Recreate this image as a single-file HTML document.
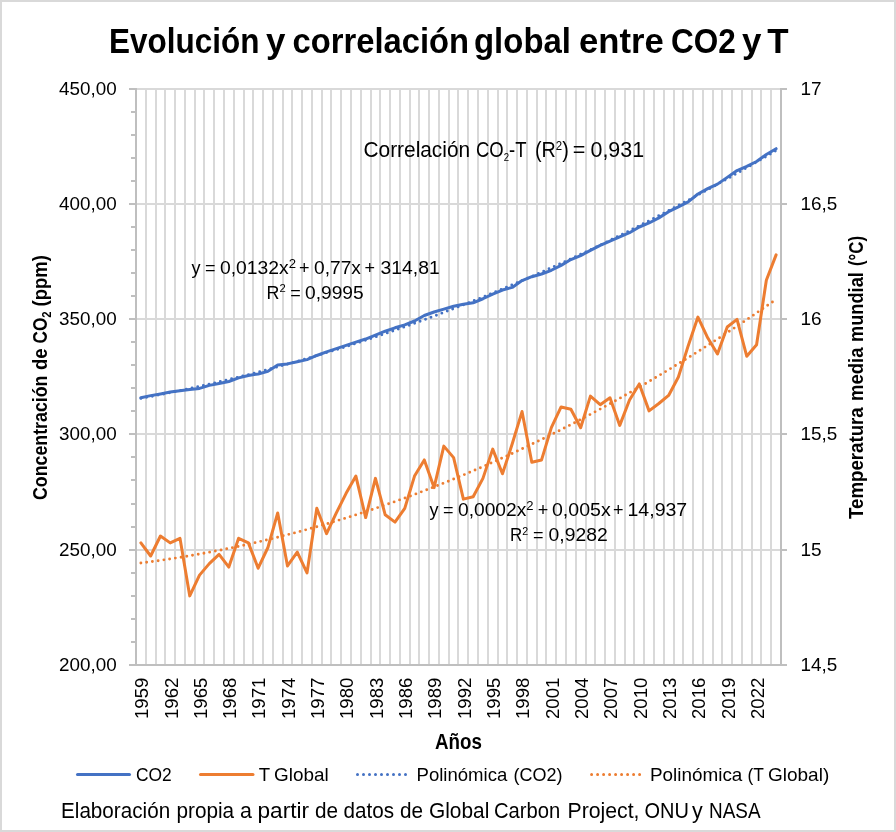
<!DOCTYPE html>
<html><head><meta charset="utf-8"><title>Evolución y correlación global entre CO2 y T</title>
<style>html,body{margin:0;padding:0;background:#fff;width:896px;height:832px;overflow:hidden;}svg{display:block;will-change:transform;}
text{font-family:"Liberation Sans", Arial, sans-serif;fill:#000;}</style></head>
<body><svg width="896" height="832" viewBox="0 0 896 832">
<rect x="1" y="1" width="894" height="830" fill="#fff" stroke="#D9D9D9" stroke-width="2"/>
<path d="M146 89V665M156 89V665M165 89V665M175 89V665M185 89V665M195 89V665M204 89V665M214 89V665M224 89V665M234 89V665M244 89V665M253 89V665M263 89V665M273 89V665M283 89V665M292 89V665M302 89V665M312 89V665M322 89V665M331 89V665M341 89V665M351 89V665M361 89V665M371 89V665M380 89V665M390 89V665M400 89V665M410 89V665M419 89V665M429 89V665M439 89V665M449 89V665M458 89V665M468 89V665M478 89V665M488 89V665M498 89V665M507 89V665M517 89V665M527 89V665M537 89V665M546 89V665M556 89V665M566 89V665M576 89V665M586 89V665M595 89V665M605 89V665M615 89V665M625 89V665M634 89V665M644 89V665M654 89V665M664 89V665M674 89V665M683 89V665M693 89V665M703 89V665M713 89V665M722 89V665M732 89V665M742 89V665M752 89V665M761 89V665M771 89V665M136 89H781M136 204H781M136 319H781M136 434H781M136 550H781" stroke="#D9D9D9" stroke-width="2" fill="none"/>
<path d="M136 88V666M781 88V666M129 665H782M129 89H136M781 89H787M129 204H136M781 204H787M129 319H136M781 319H787M129 434H136M781 434H787M129 550H136M781 550H787M129 665H136M781 665H787M131 112H136M131 135H136M131 158H136M131 181H136M131 227H136M131 250H136M131 273H136M131 296H136M131 342H136M131 365H136M131 388H136M131 411H136M131 457H136M131 480H136M131 504H136M131 527H136M131 573H136M131 596H136M131 619H136M131 642H136" stroke="#BFBFBF" stroke-width="2" fill="none"/>
<polyline points="140.89,397.78 150.66,395.64 160.43,393.96 170.20,392.09 179.98,390.85 189.75,389.40 199.52,388.43 209.30,385.36 219.07,383.50 228.84,381.49 238.61,377.88 248.39,375.43 258.16,373.96 267.93,371.33 277.70,365.07 287.48,363.89 297.25,361.72 307.02,359.65 316.80,355.48 326.57,351.86 336.34,348.57 346.11,345.30 355.89,342.16 365.66,339.03 375.43,335.18 385.20,331.22 394.98,327.81 404.75,324.91 414.52,320.99 424.30,315.51 434.07,312.03 443.84,309.15 453.61,306.27 463.39,304.33 473.16,302.79 482.93,298.76 492.70,294.13 502.48,290.05 512.25,287.42 522.02,280.60 531.80,276.68 541.57,273.99 551.34,270.28 561.11,265.37 570.89,259.54 580.66,255.58 590.43,250.33 600.20,245.46 609.98,241.02 619.75,236.85 629.52,232.68 639.30,227.01 649.07,222.98 658.84,217.89 668.61,211.71 678.39,206.94 688.16,201.87 697.93,194.04 707.70,188.62 717.48,184.11 727.25,177.36 737.02,170.54 746.80,166.39 756.57,161.51 766.34,154.43 776.11,148.67" fill="none" stroke="#4472C4" stroke-width="3.00" stroke-linejoin="round" stroke-linecap="round"/>
<polyline points="140.89,542.89 150.66,556.02 160.43,535.98 170.20,542.89 179.98,538.28 189.75,595.88 199.52,575.14 209.30,563.62 219.07,554.41 228.84,567.08 238.61,538.28 248.39,542.89 258.16,568.23 267.93,547.50 277.70,512.94 287.48,565.93 297.25,552.10 307.02,572.84 316.80,508.33 326.57,533.67 336.34,512.94 346.11,493.35 355.89,476.07 365.66,517.54 375.43,478.38 385.20,514.78 394.98,522.15 404.75,508.33 414.52,476.07 424.30,459.94 434.07,487.59 443.84,446.12 453.61,457.64 463.39,499.11 473.16,496.81 482.93,478.38 492.70,449.12 502.48,473.77 512.25,443.82 522.02,411.56 531.80,462.25 541.57,459.94 551.34,427.69 561.11,406.95 570.89,409.26 580.66,427.69 590.43,396.12 600.20,404.65 609.98,397.74 619.75,425.38 629.52,400.04 639.30,383.91 649.07,410.87 658.84,403.50 668.61,395.43 678.39,377.00 688.16,345.90 697.93,317.10 707.70,337.83 717.48,353.96 727.25,327.00 737.02,319.40 746.80,356.26 756.57,344.74 766.34,280.23 776.11,254.89" fill="none" stroke="#ED7D31" stroke-width="3.00" stroke-linejoin="round" stroke-linecap="round"/>
<polyline points="140.89,398.40 142.48,398.10 144.07,397.80 145.66,397.50 147.25,397.19 148.85,396.89 150.44,396.58 152.03,396.27 153.62,395.96 155.21,395.65 156.81,395.34 158.40,395.02 159.99,394.71 161.58,394.39 163.18,394.07 164.77,393.75 166.36,393.42 167.95,393.10 169.54,392.77 171.14,392.45 172.73,392.12 174.32,391.79 175.91,391.45 177.50,391.12 179.10,390.78 180.69,390.45 182.28,390.11 183.87,389.77 185.46,389.42 187.06,389.08 188.65,388.73 190.24,388.39 191.83,388.04 193.42,387.69 195.02,387.33 196.61,386.98 198.20,386.63 199.79,386.27 201.38,385.91 202.98,385.55 204.57,385.19 206.16,384.82 207.75,384.46 209.34,384.09 210.94,383.72 212.53,383.35 214.12,382.98 215.71,382.61 217.30,382.23 218.90,381.86 220.49,381.48 222.08,381.10 223.67,380.72 225.26,380.34 226.86,379.95 228.45,379.57 230.04,379.18 231.63,378.79 233.23,378.40 234.82,378.00 236.41,377.61 238.00,377.21 239.59,376.82 241.19,376.42 242.78,376.02 244.37,375.61 245.96,375.21 247.55,374.81 249.15,374.40 250.74,373.99 252.33,373.58 253.92,373.17 255.51,372.75 257.11,372.34 258.70,371.92 260.29,371.50 261.88,371.08 263.47,370.66 265.07,370.24 266.66,369.81 268.25,369.38 269.84,368.96 271.43,368.53 273.03,368.10 274.62,367.66 276.21,367.23 277.80,366.79 279.39,366.35 280.99,365.91 282.58,365.47 284.17,365.03 285.76,364.58 287.35,364.14 288.95,363.69 290.54,363.24 292.13,362.79 293.72,362.34 295.32,361.88 296.91,361.43 298.50,360.97 300.09,360.51 301.68,360.05 303.28,359.59 304.87,359.12 306.46,358.66 308.05,358.19 309.64,357.72 311.24,357.25 312.83,356.78 314.42,356.31 316.01,355.83 317.60,355.35 319.20,354.88 320.79,354.40 322.38,353.91 323.97,353.43 325.56,352.95 327.16,352.46 328.75,351.97 330.34,351.48 331.93,350.99 333.52,350.50 335.12,350.00 336.71,349.50 338.30,349.01 339.89,348.51 341.48,348.01 343.08,347.50 344.67,347.00 346.26,346.49 347.85,345.98 349.44,345.48 351.04,344.96 352.63,344.45 354.22,343.94 355.81,343.42 357.40,342.90 359.00,342.39 360.59,341.87 362.18,341.34 363.77,340.82 365.37,340.29 366.96,339.77 368.55,339.24 370.14,338.71 371.73,338.17 373.33,337.64 374.92,337.11 376.51,336.57 378.10,336.03 379.69,335.49 381.29,334.95 382.88,334.41 384.47,333.86 386.06,333.31 387.65,332.77 389.25,332.22 390.84,331.66 392.43,331.11 394.02,330.56 395.61,330.00 397.21,329.44 398.80,328.88 400.39,328.32 401.98,327.76 403.57,327.19 405.17,326.63 406.76,326.06 408.35,325.49 409.94,324.92 411.53,324.35 413.13,323.77 414.72,323.20 416.31,322.62 417.90,322.04 419.49,321.46 421.09,320.88 422.68,320.29 424.27,319.71 425.86,319.12 427.46,318.53 429.05,317.94 430.64,317.35 432.23,316.76 433.82,316.16 435.42,315.57 437.01,314.97 438.60,314.37 440.19,313.77 441.78,313.16 443.38,312.56 444.97,311.95 446.56,311.34 448.15,310.73 449.74,310.12 451.34,309.51 452.93,308.89 454.52,308.28 456.11,307.66 457.70,307.04 459.30,306.42 460.89,305.80 462.48,305.17 464.07,304.55 465.66,303.92 467.26,303.29 468.85,302.66 470.44,302.03 472.03,301.39 473.62,300.76 475.22,300.12 476.81,299.48 478.40,298.84 479.99,298.20 481.58,297.55 483.18,296.91 484.77,296.26 486.36,295.61 487.95,294.96 489.54,294.31 491.14,293.66 492.73,293.00 494.32,292.34 495.91,291.69 497.51,291.03 499.10,290.36 500.69,289.70 502.28,289.04 503.87,288.37 505.47,287.70 507.06,287.03 508.65,286.36 510.24,285.69 511.83,285.01 513.43,284.34 515.02,283.66 516.61,282.98 518.20,282.30 519.79,281.61 521.39,280.93 522.98,280.24 524.57,279.56 526.16,278.87 527.75,278.18 529.35,277.48 530.94,276.79 532.53,276.09 534.12,275.40 535.71,274.70 537.31,274.00 538.90,273.30 540.49,272.59 542.08,271.89 543.67,271.18 545.27,270.47 546.86,269.76 548.45,269.05 550.04,268.33 551.63,267.62 553.23,266.90 554.82,266.18 556.41,265.46 558.00,264.74 559.60,264.02 561.19,263.29 562.78,262.57 564.37,261.84 565.96,261.11 567.56,260.38 569.15,259.65 570.74,258.91 572.33,258.18 573.92,257.44 575.52,256.70 577.11,255.96 578.70,255.21 580.29,254.47 581.88,253.72 583.48,252.98 585.07,252.23 586.66,251.48 588.25,250.72 589.84,249.97 591.44,249.21 593.03,248.46 594.62,247.70 596.21,246.94 597.80,246.18 599.40,245.41 600.99,244.65 602.58,243.88 604.17,243.11 605.76,242.34 607.36,241.57 608.95,240.80 610.54,240.02 612.13,239.24 613.72,238.46 615.32,237.68 616.91,236.90 618.50,236.12 620.09,235.34 621.68,234.55 623.28,233.76 624.87,232.97 626.46,232.18 628.05,231.39 629.65,230.59 631.24,229.80 632.83,229.00 634.42,228.20 636.01,227.40 637.61,226.60 639.20,225.79 640.79,224.99 642.38,224.18 643.97,223.37 645.57,222.56 647.16,221.75 648.75,220.93 650.34,220.12 651.93,219.30 653.53,218.48 655.12,217.66 656.71,216.84 658.30,216.01 659.89,215.19 661.49,214.36 663.08,213.53 664.67,212.70 666.26,211.87 667.85,211.04 669.45,210.20 671.04,209.37 672.63,208.53 674.22,207.69 675.81,206.85 677.41,206.00 679.00,205.16 680.59,204.31 682.18,203.46 683.77,202.61 685.37,201.76 686.96,200.91 688.55,200.05 690.14,199.20 691.74,198.34 693.33,197.48 694.92,196.62 696.51,195.76 698.10,194.89 699.70,194.03 701.29,193.16 702.88,192.29 704.47,191.42 706.06,190.55 707.66,189.67 709.25,188.80 710.84,187.92 712.43,187.04 714.02,186.16 715.62,185.28 717.21,184.40 718.80,183.51 720.39,182.62 721.98,181.74 723.58,180.85 725.17,179.95 726.76,179.06 728.35,178.17 729.94,177.27 731.54,176.37 733.13,175.47 734.72,174.57 736.31,173.67 737.90,172.76 739.50,171.85 741.09,170.95 742.68,170.04 744.27,169.13 745.86,168.21 747.46,167.30 749.05,166.38 750.64,165.46 752.23,164.55 753.82,163.62 755.42,162.70 757.01,161.78 758.60,160.85 760.19,159.92 761.79,159.00 763.38,158.06 764.97,157.13 766.56,156.20 768.15,155.26 769.75,154.33 771.34,153.39 772.93,152.45 774.52,151.50 776.11,150.56" fill="none" stroke="#4472C4" stroke-width="2.90" stroke-linecap="round" stroke-dasharray="0 5.80"/>
<polyline points="140.89,562.99 142.48,562.79 144.07,562.58 145.66,562.38 147.25,562.17 148.85,561.96 150.44,561.74 152.03,561.53 153.62,561.31 155.21,561.09 156.81,560.87 158.40,560.64 159.99,560.41 161.58,560.18 163.18,559.95 164.77,559.72 166.36,559.48 167.95,559.24 169.54,559.00 171.14,558.76 172.73,558.51 174.32,558.26 175.91,558.01 177.50,557.76 179.10,557.50 180.69,557.25 182.28,556.99 183.87,556.72 185.46,556.46 187.06,556.19 188.65,555.92 190.24,555.65 191.83,555.38 193.42,555.10 195.02,554.83 196.61,554.55 198.20,554.26 199.79,553.98 201.38,553.69 202.98,553.40 204.57,553.11 206.16,552.81 207.75,552.52 209.34,552.22 210.94,551.92 212.53,551.61 214.12,551.31 215.71,551.00 217.30,550.69 218.90,550.38 220.49,550.06 222.08,549.74 223.67,549.43 225.26,549.10 226.86,548.78 228.45,548.45 230.04,548.12 231.63,547.79 233.23,547.46 234.82,547.12 236.41,546.78 238.00,546.44 239.59,546.10 241.19,545.76 242.78,545.41 244.37,545.06 245.96,544.71 247.55,544.35 249.15,544.00 250.74,543.64 252.33,543.28 253.92,542.91 255.51,542.55 257.11,542.18 258.70,541.81 260.29,541.44 261.88,541.06 263.47,540.69 265.07,540.31 266.66,539.92 268.25,539.54 269.84,539.15 271.43,538.76 273.03,538.37 274.62,537.98 276.21,537.58 277.80,537.19 279.39,536.79 280.99,536.38 282.58,535.98 284.17,535.57 285.76,535.16 287.35,534.75 288.95,534.34 290.54,533.92 292.13,533.50 293.72,533.08 295.32,532.66 296.91,532.23 298.50,531.80 300.09,531.37 301.68,530.94 303.28,530.50 304.87,530.07 306.46,529.63 308.05,529.19 309.64,528.74 311.24,528.30 312.83,527.85 314.42,527.40 316.01,526.94 317.60,526.49 319.20,526.03 320.79,525.57 322.38,525.11 323.97,524.64 325.56,524.17 327.16,523.70 328.75,523.23 330.34,522.76 331.93,522.28 333.52,521.80 335.12,521.32 336.71,520.84 338.30,520.35 339.89,519.87 341.48,519.38 343.08,518.88 344.67,518.39 346.26,517.89 347.85,517.39 349.44,516.89 351.04,516.39 352.63,515.88 354.22,515.37 355.81,514.86 357.40,514.35 359.00,513.83 360.59,513.31 362.18,512.79 363.77,512.27 365.37,511.75 366.96,511.22 368.55,510.69 370.14,510.16 371.73,509.62 373.33,509.09 374.92,508.55 376.51,508.01 378.10,507.46 379.69,506.92 381.29,506.37 382.88,505.82 384.47,505.27 386.06,504.71 387.65,504.16 389.25,503.60 390.84,503.04 392.43,502.47 394.02,501.91 395.61,501.34 397.21,500.77 398.80,500.19 400.39,499.62 401.98,499.04 403.57,498.46 405.17,497.88 406.76,497.29 408.35,496.71 409.94,496.12 411.53,495.52 413.13,494.93 414.72,494.33 416.31,493.74 417.90,493.13 419.49,492.53 421.09,491.93 422.68,491.32 424.27,490.71 425.86,490.10 427.46,489.48 429.05,488.86 430.64,488.25 432.23,487.62 433.82,487.00 435.42,486.37 437.01,485.75 438.60,485.11 440.19,484.48 441.78,483.85 443.38,483.21 444.97,482.57 446.56,481.93 448.15,481.28 449.74,480.63 451.34,479.98 452.93,479.33 454.52,478.68 456.11,478.02 457.70,477.36 459.30,476.70 460.89,476.04 462.48,475.38 464.07,474.71 465.66,474.04 467.26,473.37 468.85,472.69 470.44,472.01 472.03,471.33 473.62,470.65 475.22,469.97 476.81,469.28 478.40,468.59 479.99,467.90 481.58,467.21 483.18,466.52 484.77,465.82 486.36,465.12 487.95,464.42 489.54,463.71 491.14,463.00 492.73,462.30 494.32,461.58 495.91,460.87 497.51,460.15 499.10,459.44 500.69,458.71 502.28,457.99 503.87,457.27 505.47,456.54 507.06,455.81 508.65,455.08 510.24,454.34 511.83,453.61 513.43,452.87 515.02,452.12 516.61,451.38 518.20,450.63 519.79,449.89 521.39,449.14 522.98,448.38 524.57,447.63 526.16,446.87 527.75,446.11 529.35,445.35 530.94,444.58 532.53,443.82 534.12,443.05 535.71,442.28 537.31,441.50 538.90,440.73 540.49,439.95 542.08,439.17 543.67,438.38 545.27,437.60 546.86,436.81 548.45,436.02 550.04,435.23 551.63,434.43 553.23,433.64 554.82,432.84 556.41,432.04 558.00,431.23 559.60,430.43 561.19,429.62 562.78,428.81 564.37,428.00 565.96,427.18 567.56,426.36 569.15,425.54 570.74,424.72 572.33,423.90 573.92,423.07 575.52,422.24 577.11,421.41 578.70,420.58 580.29,419.74 581.88,418.90 583.48,418.06 585.07,417.22 586.66,416.37 588.25,415.53 589.84,414.68 591.44,413.82 593.03,412.97 594.62,412.11 596.21,411.25 597.80,410.39 599.40,409.53 600.99,408.66 602.58,407.79 604.17,406.92 605.76,406.05 607.36,405.18 608.95,404.30 610.54,403.42 612.13,402.54 613.72,401.65 615.32,400.77 616.91,399.88 618.50,398.99 620.09,398.09 621.68,397.20 623.28,396.30 624.87,395.40 626.46,394.49 628.05,393.59 629.65,392.68 631.24,391.77 632.83,390.86 634.42,389.95 636.01,389.03 637.61,388.11 639.20,387.19 640.79,386.27 642.38,385.34 643.97,384.41 645.57,383.48 647.16,382.55 648.75,381.61 650.34,380.68 651.93,379.74 653.53,378.79 655.12,377.85 656.71,376.90 658.30,375.95 659.89,375.00 661.49,374.05 663.08,373.09 664.67,372.14 666.26,371.18 667.85,370.21 669.45,369.25 671.04,368.28 672.63,367.31 674.22,366.34 675.81,365.36 677.41,364.39 679.00,363.41 680.59,362.43 682.18,361.44 683.77,360.46 685.37,359.47 686.96,358.48 688.55,357.49 690.14,356.49 691.74,355.50 693.33,354.50 694.92,353.49 696.51,352.49 698.10,351.48 699.70,350.47 701.29,349.46 702.88,348.45 704.47,347.43 706.06,346.42 707.66,345.40 709.25,344.37 710.84,343.35 712.43,342.32 714.02,341.29 715.62,340.26 717.21,339.22 718.80,338.19 720.39,337.15 721.98,336.11 723.58,335.06 725.17,334.02 726.76,332.97 728.35,331.92 729.94,330.87 731.54,329.81 733.13,328.76 734.72,327.70 736.31,326.63 737.90,325.57 739.50,324.50 741.09,323.44 742.68,322.36 744.27,321.29 745.86,320.22 747.46,319.14 749.05,318.06 750.64,316.97 752.23,315.89 753.82,314.80 755.42,313.71 757.01,312.62 758.60,311.53 760.19,310.43 761.79,309.33 763.38,308.23 764.97,307.13 766.56,306.02 768.15,304.91 769.75,303.80 771.34,302.69 772.93,301.58 774.52,300.46 776.11,299.34" fill="none" stroke="#ED7D31" stroke-width="2.90" stroke-linecap="round" stroke-dasharray="0 5.80"/>
<path d="M77.5 774.5H129.5" stroke="#4472C4" stroke-width="3" stroke-linecap="round"/>
<path d="M200.5 774.5H253" stroke="#ED7D31" stroke-width="3" stroke-linecap="round"/>
<path d="M357.5 774.5H405.6" stroke="#4472C4" stroke-width="3" stroke-linecap="round" stroke-dasharray="0 6"/>
<path d="M591.6 774.5H639.7" stroke="#ED7D31" stroke-width="3" stroke-linecap="round" stroke-dasharray="0 6"/>
<text x="109.00" y="52.70" font-size="34.90" font-weight="bold" textLength="150.46" lengthAdjust="spacingAndGlyphs">Evolución</text>
<text x="266.10" y="52.70" font-size="34.90" font-weight="bold">y</text>
<text x="292.50" y="52.70" font-size="34.90" font-weight="bold" textLength="176.47" lengthAdjust="spacingAndGlyphs">correlación</text>
<text x="474.00" y="52.70" font-size="34.90" font-weight="bold" textLength="96.96" lengthAdjust="spacingAndGlyphs">global</text>
<text x="579.00" y="52.70" font-size="34.90" font-weight="bold" textLength="84.66" lengthAdjust="spacingAndGlyphs">entre</text>
<text x="671.00" y="52.70" font-size="34.90" font-weight="bold" textLength="64.80" lengthAdjust="spacingAndGlyphs">CO2</text>
<text x="741.95" y="52.70" font-size="34.90" font-weight="bold">y</text>
<text x="767.35" y="52.70" font-size="34.90" font-weight="bold">T</text>
<text x="61.00" y="817.90" font-size="21.40" textLength="109.16" lengthAdjust="spacingAndGlyphs">Elaboración</text>
<text x="176.50" y="817.90" font-size="21.40" textLength="57.64" lengthAdjust="spacingAndGlyphs">propia</text>
<text x="240.10" y="817.90" font-size="21.40">a</text>
<text x="257.50" y="817.90" font-size="21.40" textLength="51.52" lengthAdjust="spacingAndGlyphs">partir</text>
<text x="315.00" y="817.90" font-size="21.40" textLength="23.05" lengthAdjust="spacingAndGlyphs">de</text>
<text x="343.50" y="817.90" font-size="21.40" textLength="50.52" lengthAdjust="spacingAndGlyphs">datos</text>
<text x="400.00" y="817.90" font-size="21.40" textLength="23.05" lengthAdjust="spacingAndGlyphs">de</text>
<text x="429.00" y="817.90" font-size="21.40" textLength="60.27" lengthAdjust="spacingAndGlyphs">Global</text>
<text x="494.00" y="817.90" font-size="21.40" textLength="66.31" lengthAdjust="spacingAndGlyphs">Carbon</text>
<text x="567.50" y="817.90" font-size="21.40" textLength="72.01" lengthAdjust="spacingAndGlyphs">Project,</text>
<text x="644.50" y="817.90" font-size="21.40" textLength="44.41" lengthAdjust="spacingAndGlyphs">ONU</text>
<text x="691.90" y="817.90" font-size="21.40">y</text>
<text x="709.00" y="817.90" font-size="21.40" textLength="51.52" lengthAdjust="spacingAndGlyphs">NASA</text>
<text x="258.65" y="781.10" font-size="18.60">T</text>
<text x="274.00" y="781.10" font-size="18.60" textLength="54.63" lengthAdjust="spacingAndGlyphs">Global</text>
<text x="416.50" y="781.10" font-size="18.60" textLength="90.79" lengthAdjust="spacingAndGlyphs">Polinómica</text>
<text x="513.50" y="781.10" font-size="18.60" textLength="49.01" lengthAdjust="spacingAndGlyphs">(CO2)</text>
<text x="650.00" y="781.10" font-size="18.60" textLength="92.33" lengthAdjust="spacingAndGlyphs">Polinómica</text>
<text x="747.50" y="781.10" font-size="18.60" textLength="16.42" lengthAdjust="spacingAndGlyphs">(T</text>
<text x="768.00" y="781.10" font-size="18.60" textLength="61.23" lengthAdjust="spacingAndGlyphs">Global)</text>
<text x="363.50" y="156.90" font-size="21.60" textLength="106.61" lengthAdjust="spacingAndGlyphs">Correlación</text>
<text x="476.00" y="156.90" font-size="21.60" textLength="50.50" lengthAdjust="spacingAndGlyphs">CO<tspan font-size="11.23" dy="4.54">2</tspan><tspan dy="-4.54">​</tspan>-T</text>
<text x="535.00" y="156.90" font-size="21.60" textLength="33.80" lengthAdjust="spacingAndGlyphs">(R<tspan font-size="12.53" dy="-6.91">2</tspan><tspan dy="6.91">​</tspan>)</text>
<text x="572.80" y="156.90" font-size="21.60">=</text>
<text x="590.50" y="156.90" font-size="21.60" textLength="53.61" lengthAdjust="spacingAndGlyphs">0,931</text>
<text x="191.50" y="273.90" font-size="18.00">y</text>
<text x="204.95" y="273.90" font-size="18.00">=</text>
<text x="220.00" y="273.90" font-size="18.00" textLength="76.00" lengthAdjust="spacingAndGlyphs">0,0132x<tspan font-size="12.24" dy="-5.94">2</tspan><tspan dy="5.94">​</tspan></text>
<text x="299.00" y="273.90" font-size="18.00">+</text>
<text x="314.00" y="273.90" font-size="18.00" textLength="46.93" lengthAdjust="spacingAndGlyphs">0,77x</text>
<text x="364.60" y="273.90" font-size="18.00">+</text>
<text x="380.50" y="273.90" font-size="18.00" textLength="59.19" lengthAdjust="spacingAndGlyphs">314,81</text>
<text x="266.50" y="298.50" font-size="18.00" textLength="19.16" lengthAdjust="spacingAndGlyphs">R<tspan font-size="11.34" dy="-6.48">2</tspan><tspan dy="6.48">​</tspan></text>
<text x="290.15" y="298.50" font-size="18.00">=</text>
<text x="305.00" y="298.50" font-size="18.00" textLength="58.66" lengthAdjust="spacingAndGlyphs">0,9995</text>
<text x="429.45" y="516.00" font-size="18.00">y</text>
<text x="442.95" y="516.00" font-size="18.00">=</text>
<text x="458.00" y="516.00" font-size="18.00" textLength="75.50" lengthAdjust="spacingAndGlyphs">0,0002x<tspan font-size="12.24" dy="-5.94">2</tspan><tspan dy="5.94">​</tspan></text>
<text x="537.85" y="516.00" font-size="18.00">+</text>
<text x="552.00" y="516.00" font-size="18.00" textLength="58.66" lengthAdjust="spacingAndGlyphs">0,005x</text>
<text x="612.95" y="516.00" font-size="18.00">+</text>
<text x="627.50" y="516.00" font-size="18.00" textLength="59.70" lengthAdjust="spacingAndGlyphs">14,937</text>
<text x="510.00" y="541.00" font-size="18.00" textLength="18.18" lengthAdjust="spacingAndGlyphs">R<tspan font-size="11.34" dy="-6.48">2</tspan><tspan dy="6.48">​</tspan></text>
<text x="533.10" y="541.00" font-size="18.00">=</text>
<text x="548.50" y="541.00" font-size="18.00" textLength="59.17" lengthAdjust="spacingAndGlyphs">0,9282</text>
<text transform="translate(47.30 500.00) rotate(-90)" x="0" y="0" font-size="19.30" font-weight="bold" textLength="124.44" lengthAdjust="spacingAndGlyphs">Concentración</text>
<text transform="translate(47.30 370.00) rotate(-90)" x="0" y="0" font-size="19.30" font-weight="bold" textLength="21.56" lengthAdjust="spacingAndGlyphs">de</text>
<text transform="translate(47.30 343.50) rotate(-90)" x="0" y="0" font-size="19.30" font-weight="bold" textLength="32.15" lengthAdjust="spacingAndGlyphs">CO<tspan font-size="12.74" dy="3.86">2</tspan><tspan dy="-3.86">​</tspan></text>
<text transform="translate(47.30 306.50) rotate(-90)" x="0" y="0" font-size="19.30" font-weight="bold" textLength="51.53" lengthAdjust="spacingAndGlyphs">(ppm)</text>
<text transform="translate(862.90 519.00) rotate(-90)" x="0" y="0" font-size="19.30" font-weight="bold" textLength="111.74" lengthAdjust="spacingAndGlyphs">Temperatura</text>
<text transform="translate(862.90 401.00) rotate(-90)" x="0" y="0" font-size="19.30" font-weight="bold" textLength="53.59" lengthAdjust="spacingAndGlyphs">media</text>
<text transform="translate(862.90 342.00) rotate(-90)" x="0" y="0" font-size="19.30" font-weight="bold" textLength="69.88" lengthAdjust="spacingAndGlyphs">mundial</text>
<text transform="translate(862.90 266.00) rotate(-90)" x="0" y="0" font-size="19.30" font-weight="bold" textLength="30.13" lengthAdjust="spacingAndGlyphs">(°C)</text>
<text x="435.00" y="748.75" font-size="21.50" font-weight="bold" textLength="46.95" lengthAdjust="spacingAndGlyphs">Años</text>
<text x="136.00" y="781.10" font-size="18.60" textLength="35.72" lengthAdjust="spacingAndGlyphs">CO2</text>
<text x="59.00" y="94.90" font-size="18.60" textLength="57.65" lengthAdjust="spacingAndGlyphs">450,00</text>
<text x="59.00" y="209.90" font-size="18.60" textLength="57.65" lengthAdjust="spacingAndGlyphs">400,00</text>
<text x="59.00" y="324.90" font-size="18.60" textLength="57.65" lengthAdjust="spacingAndGlyphs">350,00</text>
<text x="59.00" y="439.90" font-size="18.60" textLength="57.65" lengthAdjust="spacingAndGlyphs">300,00</text>
<text x="59.00" y="555.90" font-size="18.60" textLength="57.65" lengthAdjust="spacingAndGlyphs">250,00</text>
<text x="59.00" y="670.90" font-size="18.60" textLength="57.65" lengthAdjust="spacingAndGlyphs">200,00</text>
<text x="800.50" y="94.90" font-size="18.60" textLength="21.12" lengthAdjust="spacingAndGlyphs">17</text>
<text x="800.50" y="209.90" font-size="18.60" textLength="36.80" lengthAdjust="spacingAndGlyphs">16,5</text>
<text x="800.50" y="324.90" font-size="18.60" textLength="21.12" lengthAdjust="spacingAndGlyphs">16</text>
<text x="800.50" y="439.90" font-size="18.60" textLength="36.80" lengthAdjust="spacingAndGlyphs">15,5</text>
<text x="800.50" y="555.90" font-size="18.60" textLength="21.12" lengthAdjust="spacingAndGlyphs">15</text>
<text x="800.50" y="670.90" font-size="18.60" textLength="36.80" lengthAdjust="spacingAndGlyphs">14,5</text>
<text transform="translate(148.20 719.00) rotate(-90)" x="0" y="0" font-size="18.60" textLength="41.34" lengthAdjust="spacingAndGlyphs">1959</text>
<text transform="translate(177.52 719.00) rotate(-90)" x="0" y="0" font-size="18.60" textLength="41.34" lengthAdjust="spacingAndGlyphs">1962</text>
<text transform="translate(206.84 719.00) rotate(-90)" x="0" y="0" font-size="18.60" textLength="41.34" lengthAdjust="spacingAndGlyphs">1965</text>
<text transform="translate(236.15 719.00) rotate(-90)" x="0" y="0" font-size="18.60" textLength="41.34" lengthAdjust="spacingAndGlyphs">1968</text>
<text transform="translate(265.47 719.00) rotate(-90)" x="0" y="0" font-size="18.60" textLength="41.34" lengthAdjust="spacingAndGlyphs">1971</text>
<text transform="translate(294.79 719.00) rotate(-90)" x="0" y="0" font-size="18.60" textLength="41.34" lengthAdjust="spacingAndGlyphs">1974</text>
<text transform="translate(324.11 719.00) rotate(-90)" x="0" y="0" font-size="18.60" textLength="41.34" lengthAdjust="spacingAndGlyphs">1977</text>
<text transform="translate(353.43 719.00) rotate(-90)" x="0" y="0" font-size="18.60" textLength="41.34" lengthAdjust="spacingAndGlyphs">1980</text>
<text transform="translate(382.75 719.00) rotate(-90)" x="0" y="0" font-size="18.60" textLength="41.34" lengthAdjust="spacingAndGlyphs">1983</text>
<text transform="translate(412.06 719.00) rotate(-90)" x="0" y="0" font-size="18.60" textLength="41.34" lengthAdjust="spacingAndGlyphs">1986</text>
<text transform="translate(441.38 719.00) rotate(-90)" x="0" y="0" font-size="18.60" textLength="41.34" lengthAdjust="spacingAndGlyphs">1989</text>
<text transform="translate(470.70 719.00) rotate(-90)" x="0" y="0" font-size="18.60" textLength="41.34" lengthAdjust="spacingAndGlyphs">1992</text>
<text transform="translate(500.02 719.00) rotate(-90)" x="0" y="0" font-size="18.60" textLength="41.34" lengthAdjust="spacingAndGlyphs">1995</text>
<text transform="translate(529.34 719.00) rotate(-90)" x="0" y="0" font-size="18.60" textLength="41.34" lengthAdjust="spacingAndGlyphs">1998</text>
<text transform="translate(558.65 719.00) rotate(-90)" x="0" y="0" font-size="18.60" textLength="41.34" lengthAdjust="spacingAndGlyphs">2001</text>
<text transform="translate(587.97 719.00) rotate(-90)" x="0" y="0" font-size="18.60" textLength="41.34" lengthAdjust="spacingAndGlyphs">2004</text>
<text transform="translate(617.29 719.00) rotate(-90)" x="0" y="0" font-size="18.60" textLength="41.34" lengthAdjust="spacingAndGlyphs">2007</text>
<text transform="translate(646.61 719.00) rotate(-90)" x="0" y="0" font-size="18.60" textLength="41.34" lengthAdjust="spacingAndGlyphs">2010</text>
<text transform="translate(675.93 719.00) rotate(-90)" x="0" y="0" font-size="18.60" textLength="41.34" lengthAdjust="spacingAndGlyphs">2013</text>
<text transform="translate(705.25 719.00) rotate(-90)" x="0" y="0" font-size="18.60" textLength="41.34" lengthAdjust="spacingAndGlyphs">2016</text>
<text transform="translate(734.56 719.00) rotate(-90)" x="0" y="0" font-size="18.60" textLength="41.34" lengthAdjust="spacingAndGlyphs">2019</text>
<text transform="translate(763.88 719.00) rotate(-90)" x="0" y="0" font-size="18.60" textLength="41.34" lengthAdjust="spacingAndGlyphs">2022</text>
</svg></body></html>
